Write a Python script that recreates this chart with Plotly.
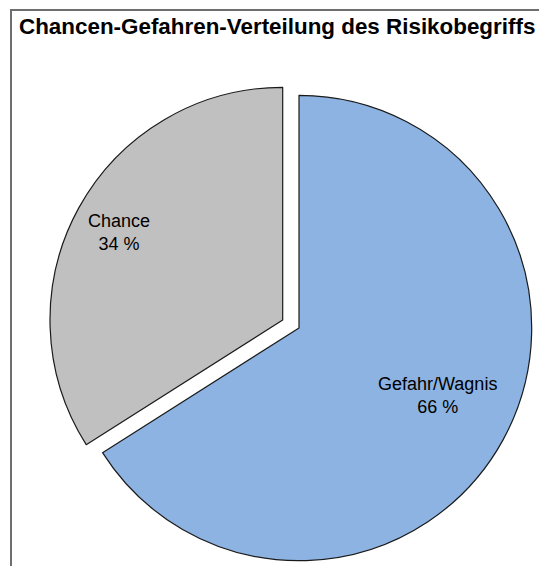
import plotly.graph_objects as go

# slice data
labels = ["Gefahr/Wagnis", "Chance"]
values = [66, 34]
colors = ["#8DB3E2", "#C0C0C0"]
title_text = "Chancen-Gefahren-Verteilung des Risikobegriffs"

# the page body keeps its default 8px margin, so the figure is drawn
# 8px in from the window corner; size it to end at the window edge
OFF = 8
W, H = 547 - OFF, 566 - OFF


def px(sx, sy):
    """window pixel -> paper coords"""
    return (sx - OFF) / W, 1 - (sy - OFF) / H


def px_dom(cx, cy, r):
    """pie domain (paper coords) from a pixel center and radius"""
    x0, y1 = px(cx - r, cy - r)
    x1, y0 = px(cx + r, cy + r)
    return dict(x=[x0, x1], y=[y0, y1])


fig = go.Figure()

# Excel-style exploded pie: draw each slice from its own copy of the pie,
# the exploded "Chance" copy is shifted along its bisector
centers = [(299, 328), (282.7, 320)]
R = 232.7
for i, (cx, cy) in enumerate(centers):
    cols = [c if j == i else "rgba(0,0,0,0)" for j, c in enumerate(colors)]
    widths = [1.2 if j == i else 0 for j in range(len(values))]
    fig.add_trace(go.Pie(
        labels=labels,
        values=values,
        sort=False,
        direction="clockwise",
        rotation=0,
        marker=dict(colors=cols, line=dict(color="#1a1a1a", width=widths)),
        textinfo="none",
        hoverinfo="label+percent",
        domain=px_dom(cx, cy, R),
        showlegend=False,
    ))

# slice labels
label_pos = [(437, 395), (119, 232)]
for lab, val, (lx, ly) in zip(labels, values, label_pos):
    ax, ay = px(lx, ly)
    fig.add_annotation(
        x=ax, y=ay, xref="paper", yref="paper",
        text=f"{lab}<br>{val} %", showarrow=False,
        font=dict(family="Liberation Sans, Arial, sans-serif", size=18, color="black"),
        align="center", xanchor="center", yanchor="middle",
    )

# chart frame: an empty bordered box, only its left and top edges
# fall inside the window
fx0, fy1 = px(10, 9)
fig.add_annotation(
    x=fx0, y=fy1, xref="paper", yref="paper",
    xanchor="left", yanchor="top",
    text=" ", showarrow=False,
    width=620, height=620,
    bordercolor="#6E6E6E", borderwidth=2, borderpad=0,
)

tx, ty = px(19, 26)
fig.update_layout(
    width=W, height=H,
    margin=dict(l=0, r=0, t=0, b=0),
    paper_bgcolor="white",
    plot_bgcolor="white",
    title=dict(
        text=f"<b>{title_text}</b>",
        x=tx, xanchor="left", xref="paper",
        y=ty, yanchor="middle", yref="paper",
        font=dict(family="Liberation Sans, Arial, sans-serif", size=22.4, color="black"),
    ),
)

fig.write_html("out.html", config={"displayModeBar": False})
